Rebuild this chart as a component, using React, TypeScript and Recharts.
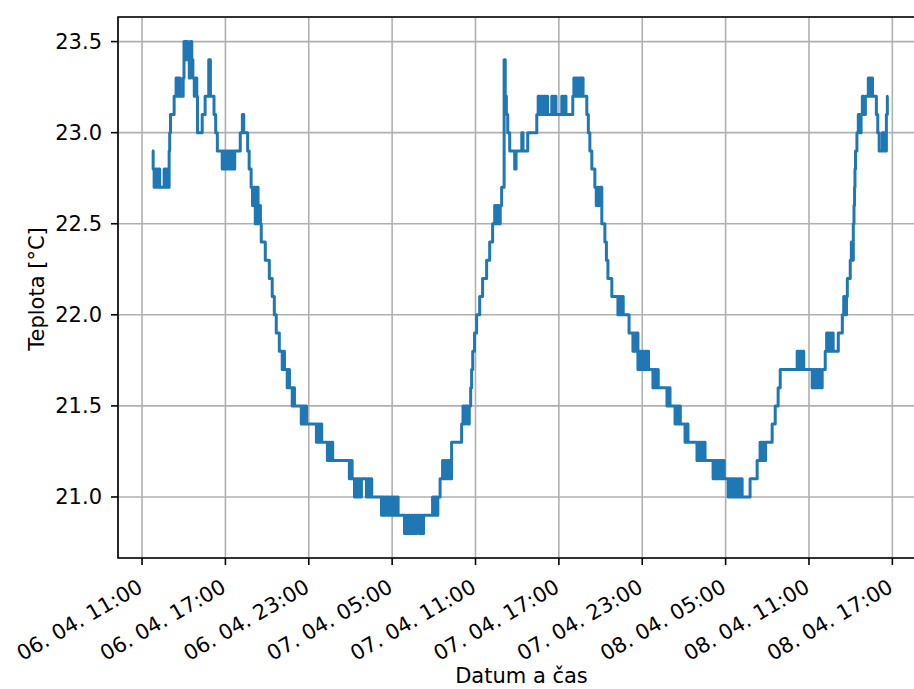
import React from "react";
import {
  LineChart,
  Line,
  XAxis,
  YAxis,
  CartesianGrid,
  ReferenceArea,
} from "recharts";

// cas = hodiny od 06. 04. 00:00, teplota ve °C
// (zaznam se meni po 0.1 °C, rychle preskakovani = "blok")
const odpoledne06: [number, number][] = [
  [11.72, 22.9], [11.8, 22.8], [11.87, 22.7], [11.97, 22.8], [12.07, 22.7], [12.17, 22.8],
  [12.27, 22.7], [12.59, 22.8], [12.69, 22.7], [12.79, 22.8], [12.89, 22.7], [12.95, 22.9],
  [12.99, 23.0], [13.05, 23.1], [13.31, 23.2], [13.45, 23.3], [13.55, 23.2], [13.65, 23.3],
  [13.74, 23.2], [13.96, 23.3], [14.02, 23.5], [14.1, 23.4], [14.18, 23.5], [14.3, 23.4],
  [14.4, 23.3], [14.48, 23.5], [14.58, 23.4], [14.66, 23.3], [14.76, 23.2], [14.86, 23.3],
  [14.94, 23.2], [14.99, 23.0], [15.33, 23.1], [15.54, 23.2], [15.8, 23.4], [15.92, 23.2],
  [16.18, 23.1], [16.3, 23.0], [16.42, 22.9], [16.77, 22.8], [16.87, 22.9], [16.97, 22.8],
  [17.07, 22.9], [17.17, 22.8], [17.27, 22.9], [17.37, 22.8], [17.47, 22.9], [17.57, 22.8],
  [17.67, 22.9], [18.07, 23.0], [18.22, 23.1], [18.32, 23.0], [18.6, 22.9], [18.71, 22.8],
  [18.85, 22.7], [18.95, 22.6], [19.05, 22.7], [19.15, 22.5], [19.25, 22.7], [19.35, 22.5],
  [19.45, 22.6], [19.52, 22.5],
];

const vecer06: [number, number][] = [
  [19.58, 22.4], [19.87, 22.3], [20.16, 22.2], [20.37, 22.1], [20.52, 22.0], [20.66, 21.9],
  [20.88, 21.8], [21.09, 21.7], [21.17, 21.8], [21.25, 21.7], [21.45, 21.6], [21.53, 21.7],
  [21.61, 21.6], [21.81, 21.5], [21.89, 21.6], [21.97, 21.5], [22.46, 21.4], [22.56, 21.5],
  [22.66, 21.4], [22.76, 21.5], [22.84, 21.4], [23.55, 21.3], [23.65, 21.4], [23.75, 21.3],
  [23.85, 21.4], [23.93, 21.3], [24.34, 21.2], [24.44, 21.3], [24.54, 21.2], [24.64, 21.3],
  [24.72, 21.2],
];

const noc07: [number, number][] = [
  [25.92, 21.1], [26.02, 21.2], [26.12, 21.1], [26.29, 21.0], [26.39, 21.1], [26.49, 21.0],
  [26.59, 21.1], [26.69, 21.0], [26.79, 21.1], [27.15, 21.0], [27.25, 21.1], [27.35, 21.0],
  [27.45, 21.1], [27.53, 21.0], [28.23, 20.9], [28.33, 21.0], [28.43, 20.9], [28.53, 21.0],
  [28.63, 20.9], [28.73, 21.0], [28.83, 20.9], [28.93, 21.0], [29.03, 20.9], [29.13, 21.0],
  [29.23, 20.9], [29.33, 21.0], [29.43, 20.9], [29.89, 20.8], [29.99, 20.9], [30.09, 20.8],
  [30.19, 20.9], [30.29, 20.8], [30.39, 20.9], [30.49, 20.8], [30.59, 20.9], [30.69, 20.8],
  [30.77, 20.9], [30.96, 20.8], [31.06, 20.9], [31.16, 20.8], [31.26, 20.9], [31.91, 21.0],
  [32.01, 20.9], [32.11, 21.0], [32.21, 20.9], [32.29, 21.0], [32.45, 21.1], [32.63, 21.2],
  [32.73, 21.1], [32.83, 21.2], [32.93, 21.1], [33.03, 21.2], [33.13, 21.1], [33.28, 21.3],
  [34.0, 21.4], [34.1, 21.5], [34.18, 21.4], [34.26, 21.5], [34.45, 21.4], [34.55, 21.5],
  [34.65, 21.6], [34.72, 21.7], [34.8, 21.8], [34.93, 21.9], [35.08, 22.0], [35.3, 22.1],
  [35.51, 22.2], [35.8, 22.3], [36.02, 22.4], [36.23, 22.5], [36.38, 22.6], [36.48, 22.5],
  [36.58, 22.6], [36.68, 22.5], [36.78, 22.6], [36.88, 22.7], [37.06, 23.4], [37.14, 23.2],
  [37.22, 23.1], [37.32, 23.0], [37.46, 22.9],
];

const den07: [number, number][] = [
  [37.82, 22.8], [37.92, 22.9], [38.33, 23.0], [38.42, 22.9], [38.76, 23.0], [39.41, 23.1],
  [39.51, 23.2], [39.61, 23.1], [39.71, 23.2], [39.81, 23.1], [39.91, 23.2], [40.01, 23.1],
  [40.11, 23.2], [40.19, 23.1], [40.49, 23.2], [40.59, 23.1], [40.69, 23.2], [40.79, 23.1],
  [41.21, 23.2], [41.31, 23.1], [41.41, 23.2], [41.51, 23.1], [42.0, 23.2], [42.08, 23.3],
  [42.18, 23.2], [42.28, 23.3], [42.38, 23.2], [42.48, 23.3], [42.58, 23.2], [42.66, 23.3],
  [42.74, 23.2], [43.01, 23.1], [43.12, 23.0], [43.23, 22.9], [43.37, 22.8], [43.59, 22.7],
  [43.69, 22.6], [43.79, 22.7], [43.89, 22.6], [43.99, 22.7], [44.09, 22.5], [44.31, 22.4],
  [44.42, 22.3], [44.53, 22.2], [44.81, 22.1], [45.25, 22.0], [45.35, 22.1], [45.45, 22.0],
  [45.55, 22.1], [45.63, 22.0], [46.05, 21.9], [46.33, 21.8], [46.43, 21.9], [46.53, 21.8],
  [46.63, 21.9], [46.69, 21.7], [46.79, 21.8], [46.89, 21.7], [46.99, 21.8], [47.09, 21.7],
  [47.19, 21.8], [47.29, 21.7], [47.39, 21.8], [47.45, 21.7], [47.77, 21.6], [47.87, 21.7],
  [47.97, 21.6], [48.07, 21.7], [48.15, 21.6], [48.78, 21.5], [48.88, 21.6], [49.0, 21.5],
  [49.36, 21.4], [49.46, 21.5], [49.56, 21.4], [49.66, 21.5], [49.74, 21.4],
];

const den08: [number, number][] = [
  [50.08, 21.3], [50.18, 21.4], [50.29, 21.3], [50.94, 21.2], [51.04, 21.3], [51.14, 21.2],
  [51.24, 21.3], [51.34, 21.2], [51.44, 21.3], [51.52, 21.2], [52.1, 21.1], [52.2, 21.2],
  [52.3, 21.1], [52.4, 21.2], [52.5, 21.1], [52.6, 21.2], [52.7, 21.1], [52.8, 21.2],
  [52.9, 21.1], [53.18, 21.0], [53.28, 21.1], [53.38, 21.0], [53.48, 21.1], [53.58, 21.0],
  [53.68, 21.1], [53.78, 21.0], [53.9, 21.1], [54.0, 21.0], [54.1, 21.1], [54.19, 21.0],
  [54.76, 21.1], [55.27, 21.2], [55.48, 21.3], [55.58, 21.2], [55.68, 21.3], [55.78, 21.2],
  [55.88, 21.3], [56.35, 21.4], [56.57, 21.5], [56.78, 21.6], [56.93, 21.7], [58.15, 21.8],
  [58.25, 21.7], [58.35, 21.8], [58.45, 21.7], [58.55, 21.8], [58.62, 21.7], [59.23, 21.6],
  [59.33, 21.7], [59.43, 21.6], [59.53, 21.7], [59.63, 21.6], [59.73, 21.7], [59.83, 21.6],
  [59.95, 21.7], [60.17, 21.8], [60.27, 21.9], [60.37, 21.8], [60.47, 21.9], [60.57, 21.8],
  [60.67, 21.9], [60.74, 21.8], [61.11, 21.9], [61.4, 22.0], [61.5, 22.1], [61.6, 22.0],
  [61.7, 22.1], [61.76, 22.2], [61.97, 22.3], [62.05, 22.4], [62.12, 22.3], [62.19, 22.5],
  [62.24, 22.6], [62.28, 22.7], [62.31, 22.8], [62.35, 22.9], [62.45, 23.0], [62.55, 23.1],
  [62.65, 23.0], [62.75, 23.1], [62.84, 23.2], [62.94, 23.1], [63.06, 23.2], [63.27, 23.3],
  [63.37, 23.2], [63.47, 23.3], [63.57, 23.2], [63.85, 23.1], [63.95, 23.0], [64.05, 22.9],
  [64.28, 23.0], [64.36, 22.9], [64.44, 23.0], [64.52, 22.9], [64.57, 23.1], [64.64, 23.2],
  [64.71, 23.2],
];

const tickyX = [11, 17, 23, 29, 35, 41, 47, 53, 59, 65];
const popiskyX = [
  "06. 04. 11:00", "06. 04. 17:00", "06. 04. 23:00", "07. 04. 05:00", "07. 04. 11:00",
  "07. 04. 17:00", "07. 04. 23:00", "08. 04. 05:00", "08. 04. 11:00", "08. 04. 17:00",
];
const tickyY = [21.0, 21.5, 22.0, 22.5, 23.0, 23.5];

const data = [...odpoledne06, ...vecer06, ...noc07, ...den07, ...den08].map(([h, t]) => ({ h, t }));

const W = 914;
const H = 689;
// the original figure is cut off on the right, the axes run a bit past the edge
const CHART_W = 927;
const PLOT_TOP = 17;
const PLOT_BOTTOM = 558;
const X_DOMAIN: [number, number] = [9.27, 67.35];
const Y_DOMAIN: [number, number] = [20.665, 23.635];
const FONT = "DejaVu Sans, Liberation Sans, sans-serif";

const XTick = (props: any) => {
  const { x, payload } = props;
  const i = tickyX.indexOf(payload.value);
  return (
    <text
      transform={`translate(${x + 2},${PLOT_BOTTOM + 33}) rotate(-30)`}
      textAnchor="end"
      fontSize={21}
      fontFamily={FONT}
      fill="#000"
    >
      {i >= 0 ? popiskyX[i] : ""}
    </text>
  );
};

export default function App() {
  return (
    <div
      style={{
        position: "absolute",
        left: 0,
        top: 0,
        width: W,
        height: H,
        overflow: "hidden",
        background: "#fff",
      }}
    >
      <LineChart
        width={CHART_W}
        height={H}
        data={data}
        margin={{ top: PLOT_TOP, right: 2, left: 0, bottom: 0 }}
      >
        <CartesianGrid stroke="#b0b0b0" strokeWidth={1.6} />
        <XAxis
          dataKey="h"
          type="number"
          domain={X_DOMAIN}
          allowDataOverflow
          ticks={tickyX}
          interval={0}
          height={H - PLOT_BOTTOM}
          tick={<XTick />}
          tickSize={7}
          tickLine={{ stroke: "#000", strokeWidth: 1.6 }}
          axisLine={false}
        />
        <YAxis
          type="number"
          domain={Y_DOMAIN}
          allowDataOverflow
          ticks={tickyY}
          interval={0}
          width={118}
          tickSize={7}
          tickMargin={9}
          tickFormatter={(v: number) => v.toFixed(1)}
          tick={{ fontSize: 21, fontFamily: FONT, fill: "#000" }}
          tickLine={{ stroke: "#000", strokeWidth: 1.6 }}
          axisLine={false}
        />
        <Line
          type="stepAfter"
          dataKey="t"
          stroke="#1f77b4"
          strokeWidth={3}
          strokeLinejoin="round"
          dot={false}
          activeDot={false}
          isAnimationActive={false}
        />
        <ReferenceArea
          x1={X_DOMAIN[0]}
          x2={X_DOMAIN[1]}
          y1={Y_DOMAIN[0]}
          y2={Y_DOMAIN[1]}
          fill="none"
          stroke="#000"
          strokeWidth={1.6}
          ifOverflow="visible"
        />
      </LineChart>
      <svg
        width={W}
        height={H}
        style={{ position: "absolute", left: 0, top: 0, pointerEvents: "none" }}
      >
        <text
          x={521.5}
          y={683}
          textAnchor="middle"
          fontSize={21}
          fontFamily={FONT}
          fill="#000"
        >
          Datum a čas
        </text>
        <text
          transform="translate(44,289) rotate(-90)"
          textAnchor="middle"
          fontSize={21}
          fontFamily={FONT}
          fill="#000"
        >
          Teplota [°C]
        </text>
      </svg>
    </div>
  );
}
